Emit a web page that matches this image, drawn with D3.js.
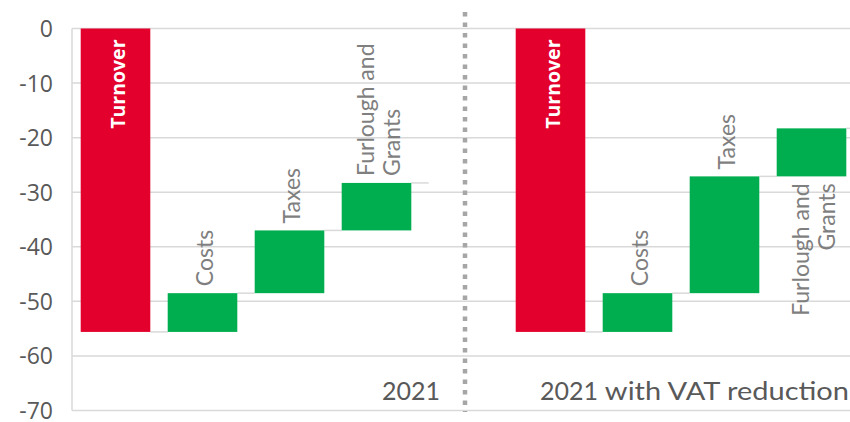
<!DOCTYPE html>
<html>
<head>
<meta charset="utf-8">
<script src="https://cdn.jsdelivr.net/npm/d3@7"></script>
<style>
  html, body { margin: 0; padding: 0; background: #fff; }
  svg { display: block; }
</style>
</head>
<body>
<div id="chart"></div>
<script>
// ---- data ----
const categories = ["Turnover", "Costs", "Taxes", "Furlough and Grants"];
const scenarios = ["2021", "2021 with VAT reduction"];
const changes2021 = [-55.6, 7.1, 11.5, 8.7];
const changesVAT = [-55.6, 7.1, 21.4, 8.8];
const yTicks = [0, -10, -20, -30, -40, -50, -60, -70];

// ---- layout ----
const W = 850, H = 422;
const svg = d3.select("#chart").append("svg").attr("width", W).attr("height", H);

const catFont = "Lato, 'Noto Sans', sans-serif";
const axisFont = "'Open Sans', 'Noto Sans', sans-serif";
const red = "#e3002c", green = "#00ad4f";
const gridCol = "#d9d9d9";

// slots: 4 categories, gap slot, 4 categories
const slots = d3.range(9);
const x = d3.scaleBand().domain(slots).range([72, 855]).paddingInner(0.2).paddingOuter(0.1);
const y = d3.scaleLinear().domain([-70, 0]).range([410.5, 28.5]);

// build waterfall records
const bars = [];
[changes2021, changesVAT].forEach((changes, g) => {
  let run = 0;
  changes.forEach((v, i) => {
    const start = run;
    const end = run + v;
    run = end;
    bars.push({
      group: g, cat: categories[i], idx: i, slot: g * 5 + i,
      start, end, lo: Math.min(start, end), hi: Math.max(start, end),
      total: i === 0
    });
  });
});

// grid lines
svg.append("g").selectAll("line").data(yTicks).join("line")
  .attr("x1", 72).attr("x2", W)
  .attr("y1", d => y(d)).attr("y2", d => y(d))
  .attr("stroke", gridCol).attr("stroke-width", 1.5);

// left axis line
svg.append("line").attr("x1", 72).attr("x2", 72)
  .attr("y1", y(0)).attr("y2", y(-70))
  .attr("stroke", gridCol).attr("stroke-width", 1.5);

// y axis labels via d3 axis
const yAxis = d3.axisLeft(y).tickValues(yTicks).tickFormat(d => String(d)).tickSize(0).tickPadding(0);
const ya = svg.append("g").attr("transform", "translate(53,0)").call(yAxis);
ya.select(".domain").remove();
ya.selectAll("text")
  .attr("font-family", axisFont).attr("font-size", 23).attr("fill", "#595959")
  .attr("dy", "0.35em");

// connectors
const conn = svg.append("g");
bars.forEach(b => {
  conn.append("line")
    .attr("x1", x(b.slot) + x.bandwidth())
    .attr("x2", x(b.slot) + x.step())
    .attr("y1", y(b.end)).attr("y2", y(b.end))
    .attr("stroke", gridCol).attr("stroke-width", 1.5);
});

// bars
svg.append("g").selectAll("rect").data(bars).join("rect")
  .attr("x", d => x(d.slot))
  .attr("width", x.bandwidth())
  .attr("y", d => y(d.hi))
  .attr("height", d => y(d.lo) - y(d.hi))
  .attr("fill", d => d.total ? red : green);

// labels
const lab = svg.append("g");
const fs = 23, lineGap = 26;
bars.forEach(b => {
  const cx = x(b.slot) + x.bandwidth() / 2;
  if (b.total) {
    lab.append("text")
      .attr("transform", `translate(${cx + 9.5},${y(b.hi) + 11}) rotate(-90)`)
      .attr("text-anchor", "end")
      .attr("font-family", axisFont).attr("font-weight", 700)
      .attr("font-size", 19.5).attr("fill", "#fff")
      .text(b.cat);
    return;
  }
  const words = b.cat.split(" ");
  const lines = words.length > 2 ? [words.slice(0, 2).join(" "), words.slice(2).join(" ")] : [b.cat];
  const estLen = d3.max(lines, l => l.length) * fs * 0.5;
  const topY = y(b.hi);
  const above = topY - 8 - estLen > 0;
  lines.forEach((l, k) => {
    const off = (k - (lines.length - 1) / 2) * lineGap;
    const lx = cx + off + 10.5;
    const t = above
      ? `translate(${lx},${topY - 7}) rotate(-90)`
      : `translate(${lx},${y(b.lo) + 7}) rotate(-90)`;
    lab.append("text")
      .attr("transform", t)
      .attr("text-anchor", above ? "start" : "end")
      .attr("font-family", catFont).attr("font-size", fs)
      .attr("fill", "#7f7f7f")
      .text(l);
  });
});

// divider
const divX = x(4) + x.bandwidth() / 2 + 1.5;
svg.append("line").attr("x1", divX).attr("x2", divX)
  .attr("y1", 12).attr("y2", 412)
  .attr("stroke", "#a6a6a6").attr("stroke-width", 4.5)
  .attr("stroke-dasharray", "4.5,6");

// scenario labels
svg.append("text").attr("x", divX - 25).attr("y", 400)
  .attr("text-anchor", "end").attr("font-family", catFont).attr("font-size", 25)
  .attr("fill", "#595959").text(scenarios[0]);
const parts = scenarios[1].split(/(?<=^\S+)\s/);
const t2 = svg.append("text").attr("x", 540).attr("y", 400)
  .attr("font-family", catFont).attr("font-size", 25).attr("fill", "#595959");
t2.append("tspan").text(parts[0]);
t2.append("tspan").attr("textLength", 251).attr("lengthAdjust", "spacingAndGlyphs")
  .text(" " + parts[1]);
</script>
</body>
</html>
